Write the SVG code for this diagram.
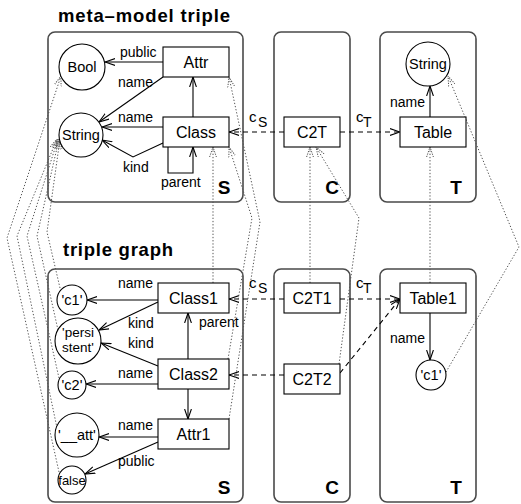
<svg xmlns="http://www.w3.org/2000/svg" width="521" height="504" viewBox="0 0 521 504">
  <style>
    text { font-family: "Liberation Sans", Arial, sans-serif; fill: #000; }
    .title { font-size: 18.5px; font-weight: bold; }
    .zone { font-size: 19px; font-weight: bold; text-anchor: middle; }
    .lbl { font-size: 16px; text-anchor: middle; }
    .val { font-size: 14.5px; text-anchor: middle; }
    .edge { font-size: 14px; }
    .sub { font-size: 14px; }
    .frame { fill: none; stroke: #4a4a4a; stroke-width: 1.6; }
    .box { fill: #fff; stroke: #000; stroke-width: 1.1; }
    .circ { fill: #fff; stroke: #000; stroke-width: 1.1; }
    .e { fill: none; stroke: #000; stroke-width: 1.1; marker-end: url(#ah); }
    .corr { fill: none; stroke: #000; stroke-width: 1.1; stroke-dasharray: 5 4; marker-end: url(#ah); }
    .map { fill: none; stroke: #555; stroke-width: 1; stroke-dasharray: 1.3 1.9; marker-end: url(#ahd); }
  </style>
  <defs>
    <marker id="ah" viewBox="0 0 10 8" refX="10" refY="4" markerWidth="10" markerHeight="8" markerUnits="userSpaceOnUse" orient="auto">
      <path d="M0,0.6 L10,4 L0,7.4" fill="none" stroke="#000" stroke-width="1.1"/>
    </marker>
    <marker id="ahd" viewBox="0 0 10 8" refX="10" refY="4" markerWidth="10" markerHeight="8" markerUnits="userSpaceOnUse" orient="auto">
      <path d="M0,0.6 L10,4 L0,7.4" fill="none" stroke="#555" stroke-width="1" stroke-dasharray="1.3 1.2"/>
    </marker>
  </defs>

  <!-- headings -->
  <text class="title" x="58" y="22" textLength="172" lengthAdjust="spacing">meta–model triple</text>
  <text class="title" x="63" y="256" textLength="110" lengthAdjust="spacing">triple graph</text>

  <!-- S / C / T frames -->
  <g id="frames">
    <rect class="frame" x="48" y="32" width="195" height="170" rx="7"/>
    <rect class="frame" x="274" y="32" width="76" height="170" rx="7"/>
    <rect class="frame" x="380" y="32" width="96" height="170" rx="7"/>
    <rect class="frame" x="48" y="269" width="195" height="233" rx="7"/>
    <rect class="frame" x="274" y="269" width="76" height="233" rx="7"/>
    <rect class="frame" x="380" y="269" width="96" height="233" rx="7"/>
    <text class="zone" x="224" y="194">S</text>
    <text class="zone" x="332" y="194">C</text>
    <text class="zone" x="456" y="194">T</text>
    <text class="zone" x="224" y="494">S</text>
    <text class="zone" x="332" y="494">C</text>
    <text class="zone" x="456" y="494">T</text>
  </g>

  <!-- connectors -->
  <g id="connectors">
    <!-- meta-model, source side -->
    <line class="e" x1="163" y1="62" x2="105" y2="62"/>
    <line class="e" x1="163" y1="77" x2="99" y2="122"/>
    <line class="e" x1="163" y1="127" x2="102" y2="127"/>
    <polyline class="e" points="163,143 133,157 102,140"/>
    <line class="e" x1="193" y1="117" x2="193" y2="77"/>
    <path class="e" d="M168,147 V173 H193 V147"/>
    <!-- meta-model, target side -->
    <line class="e" x1="430" y1="117" x2="430" y2="86"/>
    <!-- meta-model correspondence -->
    <line class="corr" x1="284" y1="132" x2="229" y2="132"/>
    <line class="corr" x1="340" y1="132" x2="400" y2="132"/>

    <!-- instance graph, source side -->
    <line class="e" x1="158" y1="300" x2="87" y2="300"/>
    <line class="e" x1="158" y1="302" x2="99" y2="330"/>
    <line class="e" x1="158" y1="366" x2="101" y2="343"/>
    <line class="e" x1="158" y1="384" x2="86" y2="384"/>
    <line class="e" x1="188" y1="359" x2="188" y2="313"/>
    <line class="e" x1="188" y1="389" x2="188" y2="419"/>
    <line class="e" x1="158" y1="437" x2="99" y2="437"/>
    <line class="e" x1="158" y1="442" x2="85" y2="474"/>
    <!-- instance graph, target side -->
    <line class="e" x1="430" y1="313" x2="430" y2="360"/>
    <!-- instance correspondence -->
    <line class="corr" x1="284" y1="299" x2="229" y2="299"/>
    <line class="corr" x1="284" y1="375" x2="229" y2="375"/>
    <line class="corr" x1="340" y1="299" x2="400" y2="299"/>
    <line class="corr" x1="340" y1="373" x2="400" y2="299"/>

    <!-- typing morphism -->
    <line class="map" x1="213" y1="283" x2="213" y2="147"/>
    <polyline class="map" points="228,359 252,218 229,147"/>
    <polyline class="map" points="229,419 260,222 229,77"/>
    <polyline class="map" points="59,472 7,238 61,76"/>
    <polyline class="map" points="57,428 17,236 57,139"/>
    <polyline class="map" points="59,378 27,236 58,139"/>
    <polyline class="map" points="58,330 37,236 59,139"/>
    <polyline class="map" points="60,288 47,232 60,139"/>
    <line class="map" x1="310" y1="283" x2="310" y2="147"/>
    <polyline class="map" points="339,364 359,218 316,147"/>
    <line class="map" x1="430" y1="283" x2="430" y2="147"/>
    <polyline class="map" points="446,372 519,247 448,76"/>
  </g>

  <!-- edge labels -->
  <g id="edge-labels">
    <text class="edge" x="120" y="57">public</text>
    <text class="edge" x="118" y="87">name</text>
    <text class="edge" x="118" y="122">name</text>
    <text class="edge" x="123" y="172">kind</text>
    <text class="edge" x="161" y="187">parent</text>
    <text class="edge" x="390" y="107">name</text>
    <text x="249" y="122" style="font-size:15px">c</text><text class="sub" x="258" y="127">S</text>
    <text x="356" y="122" style="font-size:15px">c</text><text class="sub" x="363" y="127">T</text>

    <text class="edge" x="118" y="288">name</text>
    <text class="edge" x="128" y="328">kind</text>
    <text class="edge" x="128" y="348">kind</text>
    <text class="edge" x="199" y="327">parent</text>
    <text class="edge" x="118" y="378">name</text>
    <text class="edge" x="118" y="430">name</text>
    <text class="edge" x="118" y="466">public</text>
    <text class="edge" x="390" y="343">name</text>
    <text x="249" y="288" style="font-size:15px">c</text><text class="sub" x="258" y="293">S</text>
    <text x="356" y="288" style="font-size:15px">c</text><text class="sub" x="363" y="293">T</text>
  </g>

  <!-- meta-model nodes -->
  <g id="Bool"><circle class="circ" cx="82" cy="67" r="23"/><text class="val" x="82" y="72">Bool</text></g>
  <g id="String"><circle class="circ" cx="81" cy="135" r="22"/><text class="val" x="81" y="140">String</text></g>
  <g id="Attr"><rect class="box" x="163" y="47" width="66" height="30"/><text class="lbl" x="196" y="68">Attr</text></g>
  <g id="Class"><rect class="box" x="163" y="117" width="66" height="30"/><text class="lbl" x="196" y="138">Class</text></g>
  <g id="C2T"><rect class="box" x="284" y="117" width="56" height="30"/><text class="lbl" x="312" y="138">C2T</text></g>
  <g id="StringT"><circle class="circ" cx="428" cy="64" r="22"/><text class="val" x="428" y="69">String</text></g>
  <g id="Table"><rect class="box" x="400" y="117" width="66" height="30"/><text class="lbl" x="433" y="138">Table</text></g>

  <!-- instance nodes -->
  <g id="c1"><circle class="circ" cx="72" cy="300" r="15"/><text class="val" x="72" y="305">'c1'</text></g>
  <g id="persistent"><circle class="circ" cx="78" cy="341" r="23"/><text class="val" x="78" y="337" style="font-size:13.5px">'persi</text><text class="val" x="78" y="352" style="font-size:13.5px">stent'</text></g>
  <g id="c2"><circle class="circ" cx="72" cy="385" r="14"/><text class="val" x="72" y="390">'c2'</text></g>
  <g id="att"><circle class="circ" cx="77" cy="435" r="22"/><text class="val" x="77" y="440">'__att'</text></g>
  <g id="false"><circle class="circ" cx="72" cy="480" r="14"/><text class="val" x="72" y="485" style="font-size:13px">false</text></g>
  <g id="Class1"><rect class="box" x="158" y="283" width="71" height="30"/><text class="lbl" x="193.5" y="304">Class1</text></g>
  <g id="Class2"><rect class="box" x="158" y="359" width="71" height="30"/><text class="lbl" x="193.5" y="380">Class2</text></g>
  <g id="Attr1"><rect class="box" x="158" y="419" width="71" height="30"/><text class="lbl" x="193.5" y="440">Attr1</text></g>
  <g id="C2T1"><rect class="box" x="284" y="283" width="56" height="30"/><text class="lbl" x="312" y="304">C2T1</text></g>
  <g id="C2T2"><rect class="box" x="284" y="364" width="56" height="30"/><text class="lbl" x="312" y="385">C2T2</text></g>
  <g id="Table1"><rect class="box" x="400" y="283" width="66" height="30"/><text class="lbl" x="433" y="304">Table1</text></g>
  <g id="c1T"><circle class="circ" cx="431" cy="375" r="15"/><text class="val" x="431" y="380">'c1'</text></g>
</svg>
